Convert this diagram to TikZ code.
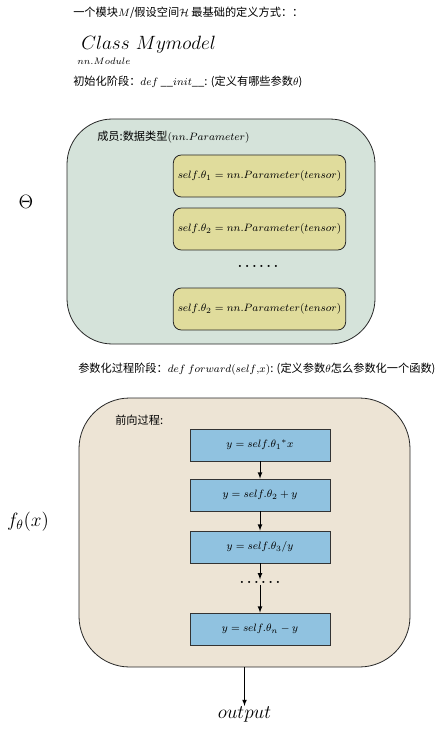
\documentclass[tikz,border=0pt]{standalone}
\usepackage{fontspec}
\usepackage{amsmath}
\newfontfamily\cjk{Noto Sans CJK SC}
\begin{document}
\begin{tikzpicture}[x=0.75pt,y=-0.75pt,
		region/.style={
			rectangle, draw=black!85, line width=0.6pt, rounded corners=#1
		},
		parambox/.style={
			rectangle, draw=black!85, fill=paramcol, line width=0.6pt,
			rounded corners=6pt, minimum width=123.75pt, minimum height=31.5pt,
			font=\footnotesize
		},
		stepbox/.style={
			rectangle, draw=black!80, fill=stepcol, line width=0.6pt,
			minimum width=105pt, minimum height=24pt, font=\footnotesize
		},
		note/.style={
			font={\cjk\fontsize{8.4}{10}\selectfont}, inner sep=0pt, anchor=west
		},
		dots/.style={font=\normalsize\bfseries, inner sep=1pt},
		big/.style={font=\Large, inner sep=0pt},
		flow/.style={-latex, line width=0.6pt}
		]
		
		\definecolor{thetacol}{HTML}{D5E3DA}
		\definecolor{paramcol}{HTML}{E0DC9C}
		\definecolor{forwardcol}{HTML}{EDE4D5}
		\definecolor{stepcol}{HTML}{90C2E0}
		
		\useasboundingbox (0,0) rectangle (448,731);
		
		% definition of the model
		\node[note] (title) at (73,13) {一个模块$M$/假设空间$\mathcal{H}$ 最基础的定义方式：：};
		\node[big, anchor=west] (classname) at (81,45) {$Class\ Mymodel$};
		\node[inner sep=0pt, anchor=west, font=\scriptsize] (base) at (77,61) {$nn.Module$};
		\node[note] (initline) at (73,82) {初始化阶段：$def\ \_\_init\_\_$: (定义有哪些参数$\theta$)};
		
		% parameter space
		\node[region=34pt, fill=thetacol, minimum width=231pt, minimum height=168.75pt] (params) at (221,231.5) {};
		\node[note] (members) at (97,137) {成员:数据类型$(nn.Parameter)$};
		\node[parambox] (p1) at (259.5,176) {$self.\theta_1 = nn.Parameter(tensor)$};
		\node[parambox] (p2) at (259.5,229) {$self.\theta_2 = nn.Parameter(tensor)$};
		\node[dots] (pdots) at (258,266) {.\hspace{2.2pt}.\hspace{2.2pt}.\hspace{2.2pt}.\hspace{2.2pt}.\hspace{2.2pt}.};
		\node[parambox] (p3) at (259.5,309) {$self.\theta_2 = nn.Parameter(tensor)$};
		\node[big] (theta) at (26,202) {$\Theta$};
		
		% forward pass
		\node[note] (fwdline) at (78,369) {参数化过程阶段：$def\ forward(self{,}x)$: (定义参数$\theta$怎么参数化一个函数)};
		\node[region=38pt, fill=forwardcol, minimum width=248.25pt, minimum height=201.75pt] (forward) at (244.5,532.5) {};
		\node[note] (fwdlabel) at (115,420) {前向过程:};
		\node[stepbox] (s1) at (260,445) {$y = self.\theta_1{}^{*}x$};
		\node[stepbox] (s2) at (260,495) {$y = self.\theta_2 + y$};
		\node[stepbox] (s3) at (260,547) {$y = self.\theta_3/y$};
		\node[dots] (sdots) at (260,582) {.\hspace{2.2pt}.\hspace{2.2pt}.\hspace{2.2pt}.\hspace{2.2pt}.\hspace{2.2pt}.};
		\node[stepbox] (s4) at (260,629) {$y = self.\theta_n - y$};
		\node[big] (ftheta) at (28,522) {$f_\theta(x)$};
		\node[big] (output) at (244.5,714) {$output$};
		
		\draw[flow] (s1) -- (s2);
		\draw[flow] (s2) -- (s3);
		\draw[flow] (s3) -- (sdots);
		\draw[flow] (sdots) -- (s4);
		\draw[flow] (forward.south) -- (output);
		
	\end{tikzpicture}
\end{document}
